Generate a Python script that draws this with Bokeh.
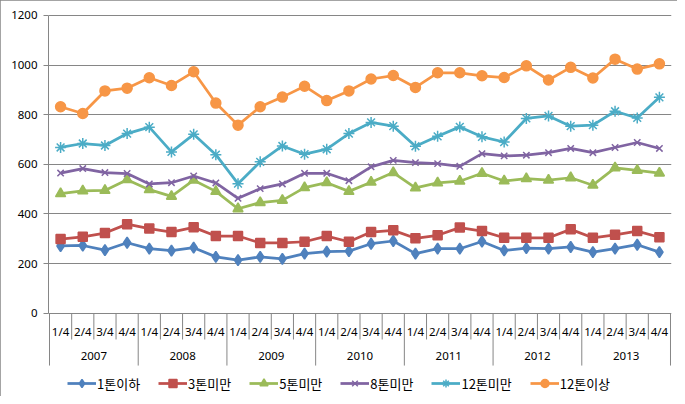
import numpy as np
from bokeh.plotting import figure
from bokeh.models import Range1d, FixedTicker, InlineStyleSheet
from bokeh.core.properties import value
from bokeh.embed import file_html
from bokeh.resources import INLINE

# ---------------- data ----------------
years = ["2007", "2008", "2009", "2010", "2011", "2012", "2013"]
quarters = ["1/4", "2/4", "3/4", "4/4"]
series_names = ["1톤이하", "3톤미만", "5톤미만", "8톤미만", "12톤미만", "12톤이상"]

s_1t_below = [271, 273, 254, 284, 260, 252, 264, 227, 214, 227, 219, 240, 248, 250,
              280, 291, 240, 260, 260, 289, 253, 262, 260, 267, 246, 260, 276, 246]
s_3t_under = [299, 308, 323, 359, 341, 327, 346, 311, 311, 283, 283, 288, 311, 288,
              327, 334, 302, 314, 345, 331, 304, 304, 304, 338, 304, 316, 331, 306]
s_5t_under = [482, 493, 495, 538, 498, 471, 536, 491, 421, 446, 455, 506, 526, 491,
              528, 567, 505, 525, 532, 564, 533, 542, 536, 546, 516, 586, 576, 565]
s_8t_under = [565, 583, 567, 563, 521, 526, 553, 525, 463, 502, 521, 564, 564, 534,
              590, 616, 607, 603, 592, 643, 634, 637, 647, 664, 647, 668, 688, 664]
s_12t_under = [668, 684, 676, 724, 750, 650, 721, 639, 522, 610, 674, 641, 661, 724,
               769, 754, 673, 713, 751, 711, 690, 785, 795, 754, 758, 814, 787, 870]
s_12t_over = [832, 805, 896, 907, 949, 918, 973, 847, 758, 832, 871, 915, 857, 896,
              944, 958, 910, 969, 969, 957, 950, 997, 940, 991, 948, 1024, 984, 1005]

y_ticks = [0, 200, 400, 600, 800, 1000, 1200]

# ---------------- styles ----------------
FONT = "Noto Sans CJK KR"
NUMFONT = "Noto Sans"
GRID = "#868686"
colors = ["#4F81BD", "#C0504D", "#9BBB59", "#8064A2", "#4BACC6", "#F79646"]
markers = ["diamond", "square", "triangle", "x", "asterisk", "circle"]
msizes = [11, 9, 10, 9, 11, 10]

all_series = [s_1t_below, s_3t_under, s_5t_under, s_8t_under, s_12t_under, s_12t_over]
n = len(years) * len(quarters)
xs = np.arange(n)

p = figure(width=677, height=396, output_backend="svg", toolbar_location=None,
           title=None,
           x_range=Range1d(-0.5451, n - 0.5 + 0.0451),
           y_range=Range1d(-327.7, 1204.0),
           x_axis_location=None,
           min_border_left=48, min_border_right=6,
           min_border_top=14, min_border_bottom=2)
p.outline_line_color = None
p.background_fill_color = "white"
p.border_fill_color = "white"
p.stylesheets = [InlineStyleSheet(css=":host { outline: 1px solid #868686; outline-offset: -1px; }")]

for g in p.xgrid:
    g.visible = False
p.ygrid.ticker = FixedTicker(ticks=y_ticks)
p.ygrid.grid_line_color = GRID
p.ygrid.grid_line_width = 1

ax = p.yaxis[0]
ax.ticker = FixedTicker(ticks=y_ticks)
ax.bounds = (y_ticks[0], y_ticks[-1])
ax.axis_line_color = GRID
ax.major_tick_line_color = GRID
ax.major_tick_in = 0
ax.major_tick_out = 5
ax.minor_tick_line_color = None
ax.major_label_standoff = 6
ax.major_label_text_font = NUMFONT
ax.major_label_text_font_size = "11.5px"
ax.major_label_text_color = "#000000"

# category separators (quarter / year)
bnd = np.arange(n + 1) - 0.5
is_year = (np.arange(n + 1) % len(quarters)) == 0
p.segment(x0=bnd, x1=bnd, y0=np.zeros(n + 1),
          y1=np.where(is_year, -211, -106), line_color=GRID, line_width=1)

# category labels
q_labels = [q for _ in years for q in quarters]
p.text(x=xs, y=np.full(n, -72.6), text=q_labels, text_font=value(NUMFONT),
       text_font_size="11.5px", text_align="center", text_baseline="middle",
       text_color="#000000")
year_x = np.arange(len(years)) * len(quarters) + (len(quarters) - 1) / 2
p.text(x=year_x, y=np.full(len(years), -174.5), text=years, text_font=value(NUMFONT),
       text_font_size="11.5px", text_align="center", text_baseline="middle",
       text_color="#000000")

# series
for name, vals, c, m, ms in zip(series_names, all_series, colors, markers, msizes):
    p.line(xs, vals, line_color=c, line_width=2.75, legend_label=name)
    p.scatter(xs, vals, marker=m, size=ms, fill_color=c, line_color=c,
              line_width=1.5, legend_label=name)

lg = p.legend[0]
lg.orientation = "horizontal"
lg.location = (19, 1)
lg.padding = 0
lg.margin = 0
lg.spacing = 18
lg.glyph_width = 29
lg.glyph_height = 20
lg.label_standoff = 1
lg.label_text_font = FONT
lg.label_text_font_size = "13px"
lg.label_text_color = "#000000"
lg.border_line_color = None
lg.background_fill_alpha = 0

open("out.html", "w").write(file_html(p, INLINE))
